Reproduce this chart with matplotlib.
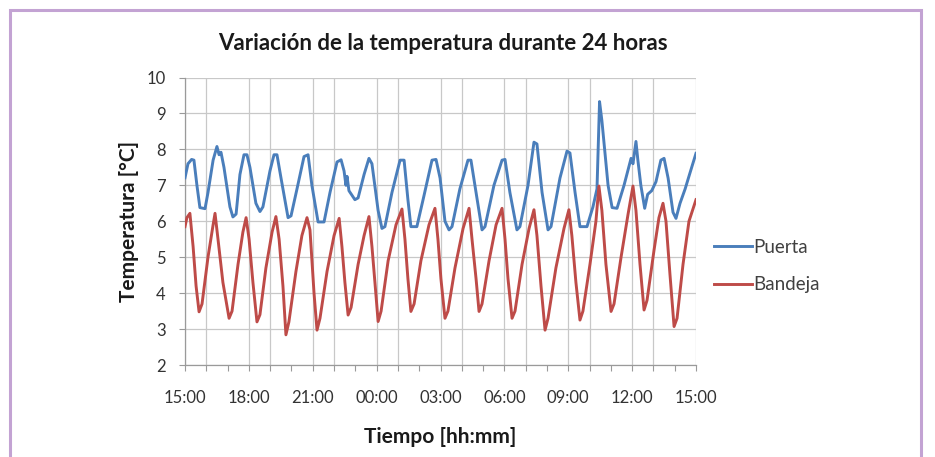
import matplotlib
matplotlib.use("Agg")
import matplotlib.pyplot as plt
from matplotlib.patches import Rectangle

plt.rcParams['font.family'] = ['Lato', 'DejaVu Sans']

# Hours elapsed since 15:00 and temperature readings
puerta_h = [0.00, 0.14, 0.31, 0.42, 0.56, 0.70, 0.94, 1.08, 1.32, 1.50, 1.60, 1.69, 1.83, 2.11, 2.25, 2.40,
            2.58, 2.77, 2.91, 3.05, 3.33, 3.52, 3.66, 3.99, 4.18, 4.32, 4.51, 4.84, 4.98, 5.26, 5.59, 5.78,
            5.96, 6.25, 6.53, 6.81, 7.14, 7.33, 7.47, 7.56, 7.61, 7.70, 7.98, 8.13, 8.41, 8.64, 8.78, 9.07,
            9.25, 9.39, 9.72, 10.10, 10.29, 10.47, 10.61, 10.89, 11.22, 11.60, 11.79, 11.98, 12.21, 12.40,
            12.54, 12.91, 13.29, 13.43, 13.67, 13.95, 14.09, 14.51, 14.89, 15.03, 15.26, 15.59, 15.73, 16.11,
            16.39, 16.53, 16.77, 17.05, 17.19, 17.61, 17.94, 18.08, 18.32, 18.55, 18.88, 19.16, 19.35, 19.47,
            19.58, 19.87, 20.06, 20.29, 20.62, 20.95, 21.04, 21.18, 21.27, 21.41, 21.59, 21.73, 21.92, 22.12,
            22.35, 22.50, 22.69, 22.92, 23.06, 23.25, 23.49, 23.72, 24.00]
puerta_t = [7.21, 7.60, 7.72, 7.70, 7.00, 6.38, 6.35, 6.80, 7.70, 8.08, 7.85, 7.92, 7.50, 6.40, 6.12, 6.20,
            7.30, 7.85, 7.85, 7.50, 6.50, 6.27, 6.40, 7.40, 7.85, 7.85, 7.20, 6.10, 6.15, 6.90, 7.80, 7.85,
            7.00, 5.98, 5.98, 6.80, 7.65, 7.71, 7.40, 7.00, 7.25, 6.85, 6.60, 6.65, 7.30, 7.75, 7.60, 6.30,
            5.80, 5.85, 6.80, 7.70, 7.70, 6.60, 5.85, 5.85, 6.70, 7.70, 7.72, 7.20, 6.00, 5.76,
            5.85, 6.90, 7.70, 7.70, 6.80, 5.76, 5.85, 7.00, 7.70, 7.72, 6.80, 5.76, 5.85, 7.00,
            8.20, 8.15, 6.80, 5.76, 5.85, 7.20, 7.95, 7.90, 6.80, 5.85, 5.85, 6.40, 6.90, 9.33,
            8.80, 7.00, 6.38, 6.36, 7.00, 7.75, 7.60, 8.22, 7.70, 7.00, 6.36, 6.75, 6.85, 7.10,
            7.70, 7.75, 7.20, 6.25, 6.08, 6.50, 6.90, 7.35, 7.89]

bandeja_h = [0.00, 0.09, 0.23, 0.38, 0.52, 0.66, 0.80, 1.08, 1.32, 1.41, 1.55, 1.78, 2.07, 2.21, 2.49, 2.72,
             2.87, 3.01, 3.19, 3.38, 3.52, 3.80, 4.09, 4.27, 4.42, 4.60, 4.74, 4.88, 5.21, 5.49, 5.73, 5.87,
             6.06, 6.20, 6.34, 6.67, 7.00, 7.24, 7.37, 7.51, 7.66, 7.80, 8.13, 8.41, 8.64, 8.78, 8.92, 9.07,
             9.21, 9.54, 9.91, 10.19, 10.33, 10.47, 10.61, 10.76, 11.08, 11.46, 11.74, 11.88, 12.02, 12.21,
             12.35, 12.68, 13.06, 13.34, 13.48, 13.67, 13.81, 13.95, 14.28, 14.61, 14.89, 15.03, 15.17, 15.36,
             15.50, 15.83, 16.16, 16.39, 16.53, 16.72, 16.91, 17.05, 17.42, 17.80, 18.03, 18.17, 18.36, 18.55,
             18.69, 19.02, 19.30, 19.44, 19.58, 19.77, 20.01, 20.15, 20.48, 20.81, 21.04, 21.18, 21.37, 21.56,
             21.70, 22.03, 22.26, 22.45, 22.59, 22.78, 22.97, 23.11, 23.39, 23.67, 24.00]
bandeja_t = [5.85, 6.10, 6.22, 5.30, 4.20, 3.48, 3.70, 5.00, 5.90, 6.22, 5.50, 4.30, 3.30, 3.50, 4.80, 5.70,
             6.10, 5.50, 4.30, 3.20, 3.40, 4.70, 5.70, 6.13, 5.50, 4.20, 2.84, 3.20, 4.60, 5.60, 6.10, 5.76,
             4.00, 2.97, 3.30, 4.60, 5.60, 6.08, 5.30, 4.30, 3.39, 3.60, 4.80, 5.60, 6.13, 5.30, 4.30, 3.21,
             3.50, 4.90, 5.90, 6.34, 5.50, 4.40, 3.49, 3.70, 4.90, 5.90, 6.36, 5.50, 4.40, 3.30,
             3.50, 4.70, 5.80, 6.36, 5.50, 4.40, 3.49, 3.70, 4.90, 5.90, 6.36, 5.50, 4.40, 3.30,
             3.50, 4.80, 5.80, 6.32, 5.60, 4.20, 2.97, 3.30, 4.70, 5.80, 6.32, 5.60, 4.30, 3.25,
             3.50, 4.80, 6.00, 6.98, 6.30, 4.80, 3.49, 3.70, 5.00, 6.20, 6.98, 6.30, 4.80, 3.53,
             3.80, 5.20, 6.10, 6.50, 6.00, 4.50, 3.07, 3.30, 4.80, 6.00, 6.60]

xtick_pos = [0, 3, 6, 9, 12, 15, 18, 21, 24]
xtick_labels = ["15:00", "18:00", "21:00", "00:00", "03:00", "06:00", "09:00", "12:00", "15:00"]
vgrid_pos = [0, 1, 3, 4, 6, 7, 9, 10, 12, 13, 15, 16, 18, 19, 21, 22, 24]
yticks = [2, 3, 4, 5, 6, 7, 8, 9, 10]

title = "Variación de la temperatura durante 24 horas"
series_names = ["Puerta", "Bandeja"]

fig = plt.figure(figsize=(9.35, 4.57), dpi=100)
fig.patch.set_facecolor('white')
ax = fig.add_axes([185/935, 1-365/457, (696-185)/935, (365-77.5)/457])

# purple frame
fig.patches.append(Rectangle((10/935, -0.2), (921-10)/935, 1.2 - 10/457, transform=fig.transFigure,
                             fill=False, edgecolor='#C3A3D3', linewidth=2.2, clip_on=False))

grid_c = '#C8C8C8'
for y in yticks:
    ax.axhline(y, color=grid_c, lw=0.9, zorder=0)
for x in vgrid_pos:
    ax.axvline(x, color=grid_c, lw=0.9, zorder=0)

ax.plot(puerta_h, puerta_t, color='#4A7EBB', lw=2.1, solid_joinstyle='round', label=series_names[0], zorder=3)
ax.plot(bandeja_h, bandeja_t, color='#BE4B48', lw=2.1, solid_joinstyle='round', label=series_names[1], zorder=3)

ax.set_xlim(0, 24)
ax.set_ylim(2, 10)
ax.set_yticks(yticks)
ax.set_xticks(xtick_pos)
ax.set_xticklabels(xtick_labels)
ax.set_xticks(range(0, 25), minor=True)

for s in ['top', 'right']:
    ax.spines[s].set_visible(False)
for s in ['left', 'bottom']:
    ax.spines[s].set_color('#9A9A9A')
    ax.spines[s].set_linewidth(0.9)

ax.tick_params(axis='y', direction='out', length=4, width=0.8, color='#9A9A9A', pad=10,
               labelsize=12, labelcolor='#333333')
ax.tick_params(axis='x', which='both', direction='out', length=4, width=0.8, color='#9A9A9A', pad=14,
               labelsize=12, labelcolor='#333333')

ax.set_xlabel("Tiempo [hh:mm]", fontsize=15, fontweight='bold', color='#1a1a1a', labelpad=15)
ax.set_ylabel("Temperatura [°C]", fontsize=15, fontweight='bold', color='#1a1a1a', labelpad=5)

fig.text(443/935, 1-44/457, title, ha='center', va='center', fontsize=16, fontweight='bold', color='#1a1a1a')

leg = fig.legend(loc='center left', bbox_to_anchor=(714/935, 1-266/457), frameon=False,
                 fontsize=13.5, handlelength=2.0, handletextpad=0.1, labelspacing=1.1,
                 borderpad=0, borderaxespad=0)
for t in leg.get_texts():
    t.set_color('#404040')

fig.savefig("out.png", dpi=100, facecolor='white')
